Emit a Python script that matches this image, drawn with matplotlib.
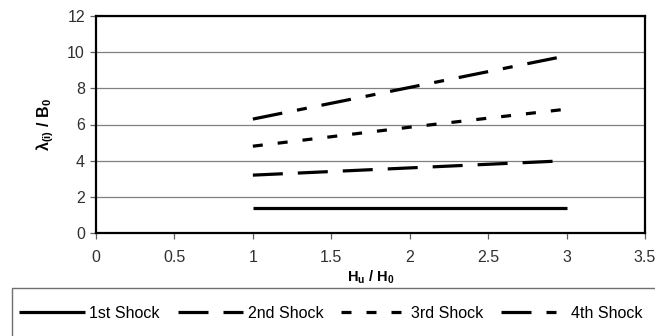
import matplotlib
matplotlib.use('Agg')
import matplotlib.pyplot as plt
from matplotlib.patches import Rectangle

plt.rcParams['font.family'] = ['Liberation Sans', 'DejaVu Sans']
plt.rcParams['mathtext.fontset'] = 'custom'
plt.rcParams['mathtext.bf'] = 'Liberation Sans:bold'
plt.rcParams['mathtext.rm'] = 'Liberation Sans'
plt.rcParams['mathtext.default'] = 'bf'
plt.rcParams['lines.scale_dashes'] = False

# data
hu_h0 = [1, 2, 3]
shock_1 = [1.4, 1.4, 1.4]
shock_2 = [3.2, 3.6, 4.0]
shock_3 = [4.8, 5.85, 6.85]
shock_4 = [6.3, 8.05, 9.8]
labels = ['1st Shock', '2nd Shock', '3rd Shock', '4th Shock']

fs = 11.5
fig = plt.figure(figsize=(6.55, 3.36), dpi=100)
ax = fig.add_axes([96 / 655, 1 - 233 / 336, (645 - 96) / 655, (233 - 16) / 336])

lw = 2.3
styles = [
    '-',
    (0, (21.6, 10.8)),
    (0, (7.2, 10.8)),
    (0, (21.6, 10.8, 7.2, 10.8)),
]
series = [shock_1, shock_2, shock_3, shock_4]
for ys, ls, lab in zip(series, styles, labels):
    ax.plot(hu_h0, ys, color='black', lw=lw, linestyle=ls, label=lab,
            solid_capstyle='butt', dash_capstyle='butt')

ax.set_xlim(0, 3.5)
ax.set_ylim(0, 12)
ax.set_xticks([0, 0.5, 1, 1.5, 2, 2.5, 3, 3.5])
ax.set_xticklabels(['0', '0.5', '1', '1.5', '2', '2.5', '3', '3.5'])
ax.set_yticks([0, 2, 4, 6, 8, 10, 12])
ax.yaxis.grid(True, color='#808080', lw=0.9)
ax.set_axisbelow(True)
for s in ax.spines.values():
    s.set_linewidth(1.6)
    s.set_color('black')
ax.tick_params(direction='out', length=4, width=0.9, color='#606060',
               labelsize=fs, labelcolor='#303030', pad=4)
ax.tick_params(axis='x', pad=8)

ax.set_xlabel('$H_u$ / $H_0$', fontsize=fs - 1, fontweight='bold', labelpad=3)
ax.set_ylabel('λ$_{(i)}$ / $B_0$', fontsize=fs, fontweight='bold', labelpad=8)

# legend frame runs off the figure at right and bottom
fig.patches.append(Rectangle((12 / 655, -0.2), 1.0, (336 - 288) / 336 + 0.2,
                             transform=fig.transFigure, fill=False,
                             edgecolor='#707070', lw=1.0))
fig.legend(loc='center left', bbox_to_anchor=(16 / 655, 1 - 313 / 336),
           ncol=4, frameon=False, fontsize=fs, handlelength=4.1,
           handletextpad=0.3, columnspacing=1.1, borderaxespad=0, borderpad=0.2)

fig.savefig('out.png', dpi=100)
